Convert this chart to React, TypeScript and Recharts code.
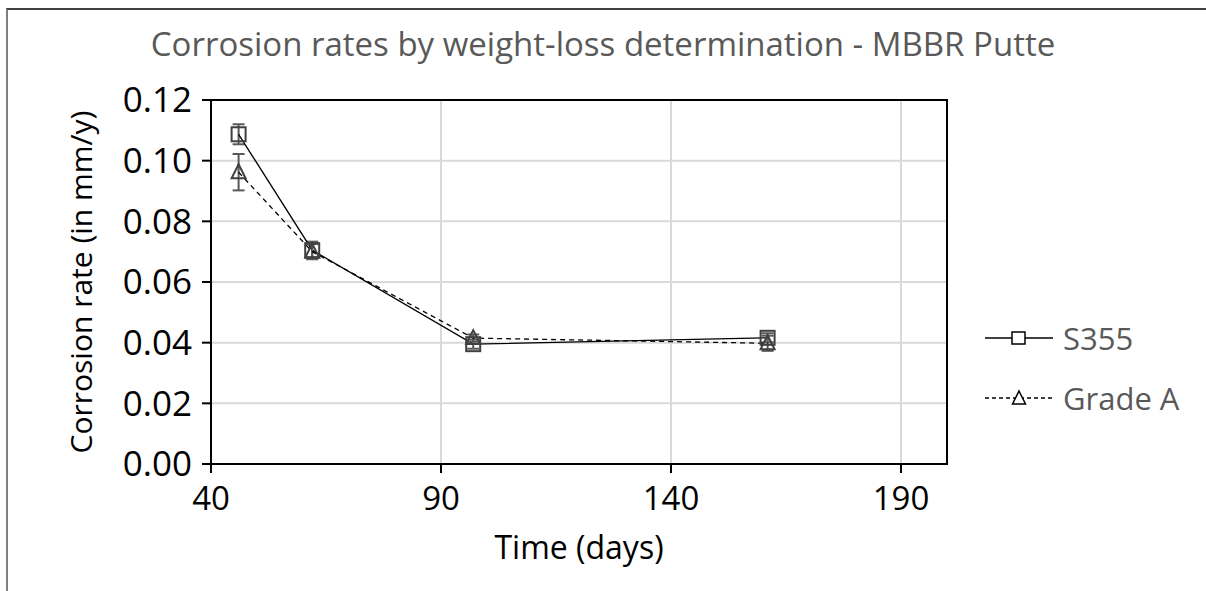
import React from 'react'
import {
  LineChart,
  Line,
  XAxis,
  YAxis,
  CartesianGrid,
  ErrorBar,
  ReferenceArea,
} from 'recharts'

const days = [46, 62, 97, 161]
const s355Rate = [0.1087, 0.0705, 0.0395, 0.0416]
const s355Err = [0.0033, 0.0028, 0.0015, 0.0015]
const gradeARate = [0.0962, 0.07, 0.0415, 0.0398]
const gradeAErr = [0.006, 0.0025, 0.0012, 0.0025]

const xTicks = [40, 90, 140, 190]
const yTicks = [0, 0.02, 0.04, 0.06, 0.08, 0.1, 0.12]

const s355Data = days.map((d, i) => ({ x: d, y: s355Rate[i], err: s355Err[i] }))
const gradeAData = days.map((d, i) => ({ x: d, y: gradeARate[i], err: gradeAErr[i] }))

const FONT = '"Open Sans", sans-serif'
const GREY_TEXT = '#595959'

function SquareDot(props: any) {
  const { cx, cy, index } = props
  if (cx == null || cy == null) return null
  return (
    <rect
      key={`sq-${index}`}
      x={cx - 7}
      y={cy - 7}
      width={14}
      height={14}
      fill="none"
      stroke="#404040"
      strokeWidth={2}
    />
  )
}

function TriangleDot(props: any) {
  const { cx, cy, index } = props
  if (cx == null || cy == null) return null
  return (
    <path
      key={`tr-${index}`}
      d={`M${cx},${cy - 8} L${cx + 7},${cy + 6} L${cx - 7},${cy + 6} Z`}
      fill="none"
      stroke="#404040"
      strokeWidth={2}
    />
  )
}

function LegendBox() {
  const items = [
    { label: 'S355', dash: undefined, shape: 'square' },
    { label: 'Grade A', dash: '4 3', shape: 'triangle' },
  ]
  return (
    <div style={{ position: 'absolute', left: 985, top: 308, fontFamily: FONT }}>
      {items.map((it) => (
        <div key={it.label} style={{ display: 'flex', alignItems: 'center', height: 60 }}>
          <svg width={72} height={20} style={{ marginRight: 6 }}>
            <line x1={0} y1={10} x2={68} y2={10} stroke="#000" strokeWidth={1.3} strokeDasharray={it.dash} />
            {it.shape === 'square' ? (
              <rect x={27} y={4} width={13} height={12} fill="#fff" stroke="#000" strokeWidth={1.5} />
            ) : (
              <path d="M34,3 L40.5,16 L27.5,16 Z" fill="#fff" stroke="#000" strokeWidth={1.5} />
            )}
          </svg>
          <span style={{ fontSize: 31, color: GREY_TEXT }}>{it.label}</span>
        </div>
      ))}
    </div>
  )
}

export default function App() {
  return (
    <div style={{ position: 'absolute', left: 0, top: 0, width: 1206, height: 591, background: '#fff' }}>
      <div
        style={{
          position: 'absolute',
          left: 6,
          top: 8,
          width: 1200,
          height: 583,
          borderTop: '2px solid #404040',
          borderLeft: '2px solid #808080',
          boxSizing: 'border-box',
        }}
      />
      <div
        style={{
          position: 'absolute',
          left: 0,
          top: 22,
          width: 1206,
          textAlign: 'center',
          fontFamily: FONT,
          fontSize: 33,
          color: GREY_TEXT,
          lineHeight: '44px',
        }}
      >
        Corrosion rates by weight-loss determination - MBBR Putte
      </div>
      <LineChart
        width={1206}
        height={591}
        margin={{ top: 100, right: 259, bottom: 0, left: 0 }}
        style={{ position: 'absolute', left: 0, top: 0 }}
      >
        <CartesianGrid stroke="#d9d9d9" strokeWidth={2} verticalValues={xTicks} horizontalValues={yTicks} />
        <ReferenceArea x1={40} x2={200} y1={0} y2={0.12} fill="none" stroke="#000" strokeWidth={2} ifOverflow="visible" />
        <XAxis
          type="number"
          dataKey="x"
          domain={[40, 200]}
          ticks={xTicks}
          allowDataOverflow
          height={127}
          tickSize={9}
          axisLine={{ stroke: '#000', strokeWidth: 2 }}
          tickLine={{ stroke: '#000', strokeWidth: 2 }}
          tick={{ fill: '#000', fontSize: 33, fontFamily: FONT, dy: 12 }}
          label={{ value: 'Time (days)', position: 'center', dy: 20, fill: '#000', fontSize: 32, fontFamily: FONT }}
        />
        <YAxis
          type="number"
          domain={[0, 0.12]}
          ticks={yTicks}
          width={211}
          tickSize={9}
          axisLine={{ stroke: '#000', strokeWidth: 2 }}
          tickLine={{ stroke: '#000', strokeWidth: 2 }}
          tickFormatter={(v: number) => v.toFixed(2)}
          tick={{ fill: '#000', fontSize: 35, fontFamily: FONT, dx: -8 }}
          label={{
            value: 'Corrosion rate (in mm/y)',
            angle: -90,
            position: 'center',
            dx: -24,
            fill: '#000',
            fontSize: 30,
            fontFamily: FONT,
          }}
        />
        <Line
          data={s355Data}
          dataKey="y"
          name="S355"
          stroke="#000"
          strokeWidth={1.3}
          dot={<SquareDot />}
          isAnimationActive={false}
        >
          <ErrorBar dataKey="err" direction="y" width={6} stroke="#595959" strokeWidth={2} isAnimationActive={false} />
        </Line>
        <Line
          data={gradeAData}
          dataKey="y"
          name="Grade A"
          stroke="#000"
          strokeWidth={1.3}
          strokeDasharray="5 4"
          dot={<TriangleDot />}
          isAnimationActive={false}
        >
          <ErrorBar dataKey="err" direction="y" width={6} stroke="#595959" strokeWidth={2} isAnimationActive={false} />
        </Line>
      </LineChart>
      <LegendBox />
    </div>
  )
}
